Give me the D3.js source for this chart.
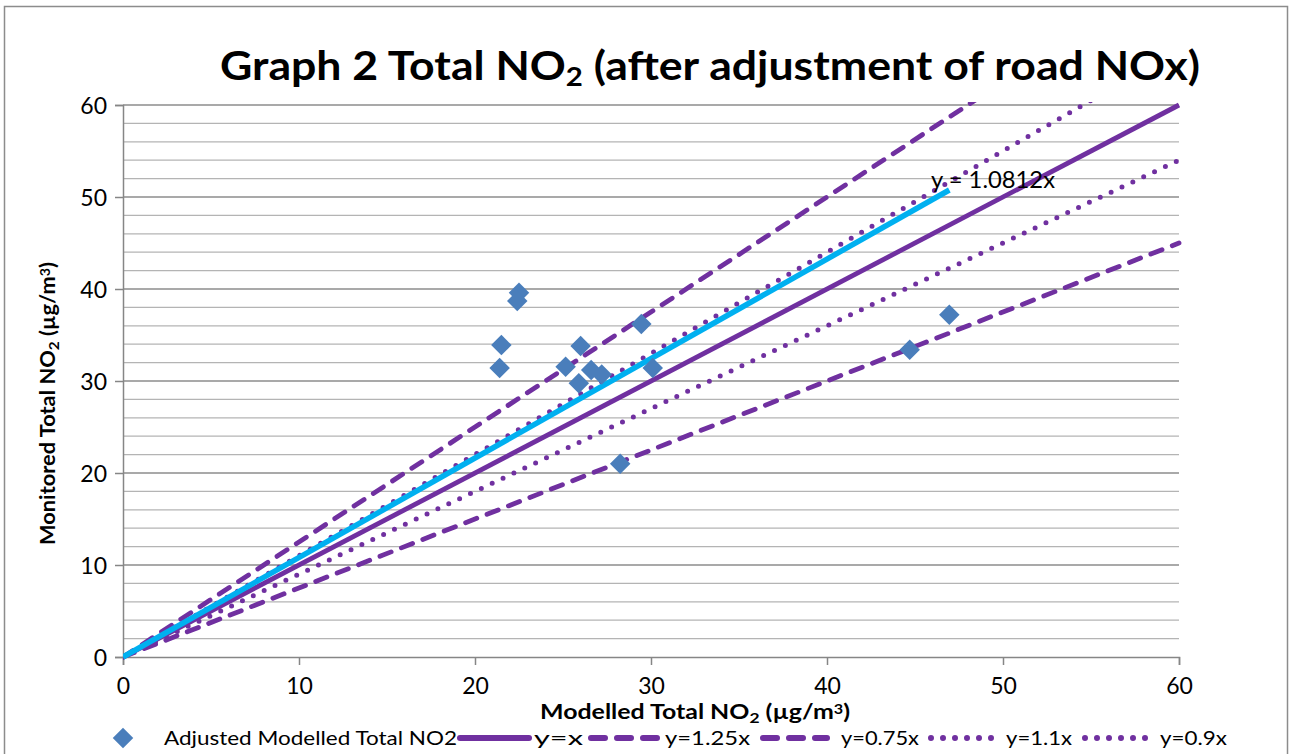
<!DOCTYPE html>
<html lang="en">
<head>
<meta charset="utf-8">
<title>Graph 2 Total NO2</title>
<script src="https://d3js.org/d3.v7.min.js"></script>
<style>
  body { margin: 0; background: #fff; }
  svg text { font-family: Lato, "Open Sans", sans-serif; fill: #000; }
</style>
</head>
<body>
<script>
// data
var modelled  = [22.5, 22.4, 21.5, 21.4, 26.0, 25.15, 26.6, 27.2, 25.9, 29.45, 30.1, 28.25, 46.95, 44.7];
var monitored = [39.6, 38.7, 33.9, 31.4, 33.8, 31.55, 31.2, 30.7, 29.75, 36.2, 31.4, 21.0, 37.2, 33.4];
var xTicks = [0, 10, 20, 30, 40, 50, 60];
var yTicks = [0, 10, 20, 30, 40, 50, 60];
var refSlopes = [1, 1.25, 0.75, 1.1, 0.9];
var refNames  = ["y=x", "y=1.25x", "y=0.75x", "y=1.1x", "y=0.9x"];
var refStyles = ["solid", "dash", "dash", "dot", "dot"];
var trendSlope = 1.0812;
var trendLabel = "y = 1.0812x";

var W = 1292, H = 754;
var purple = "#7030A0", blue = "#4A7EBB", cyan = "#00B0F0";

var svg = d3.select("body").append("svg")
    .attr("width", W).attr("height", H);

// chart border
svg.append("rect")
   .attr("x", 4.5).attr("y", 6.5)
   .attr("width", 1283).attr("height", 800)
   .attr("fill", "none").attr("stroke", "#8c8c8c").attr("stroke-width", 1.5);

var x = d3.scaleLinear().domain([0, 60]).range([123, 1179]);
var y = d3.scaleLinear().domain([0, 60]).range([657, 105]);

// gridlines (minor every 2, major every 10)
var minor = d3.range(2, 61, 2).filter(function(v){ return v % 10 != 0; });
svg.append("g").selectAll("line").data(minor).enter().append("line")
   .attr("x1", x(0)).attr("x2", x(60))
   .attr("y1", function(d){ return y(d); }).attr("y2", function(d){ return y(d); })
   .attr("stroke", "#b4b4b4").attr("stroke-width", 1.3);
svg.append("g").selectAll("line").data(yTicks.slice(1)).enter().append("line")
   .attr("x1", x(0)).attr("x2", x(60))
   .attr("y1", function(d){ return y(d); }).attr("y2", function(d){ return y(d); })
   .attr("stroke", "#8c8c8c").attr("stroke-width", 1.5);

// axes
var yAxis = svg.append("g").attr("transform", "translate(" + x(0) + ",0)")
   .call(d3.axisLeft(y).tickValues(yTicks).tickSize(8).tickPadding(8));
var xAxis = svg.append("g").attr("transform", "translate(0," + y(0) + ")")
   .call(d3.axisBottom(x).tickValues(xTicks).tickSize(8).tickPadding(13));
[yAxis, xAxis].forEach(function(a) {
  a.select(".domain").attr("stroke", "#868686").attr("stroke-width", 1.5);
  a.selectAll(".tick line").attr("stroke", "#868686").attr("stroke-width", 1.5);
  a.selectAll(".tick text").style("font-size", "23px").attr("fill", "#000");
});
yAxis.selectAll(".tick text").attr("dy", "0.35em");

// clip to plot area
svg.append("clipPath").attr("id", "plot")
   .append("rect").attr("x", x(0)).attr("y", y(60) - 3)
   .attr("width", x(60) - x(0) + 3).attr("height", y(0) - y(60) + 6);

function dashOf(s) {
  if (s == "dash") return "12,11";
  if (s == "dot") return "0,12";
  return null;
}

var line = d3.line().x(function(d){ return x(d[0]); }).y(function(d){ return y(d[1]); });

var refs = svg.append("g").attr("clip-path", "url(#plot)");
refSlopes.forEach(function(k, i) {
  refs.append("path")
      .attr("d", line([[0, 0], [60, 60 * k]]))
      .attr("fill", "none")
      .attr("stroke", purple)
      .attr("stroke-width", refStyles[i] == "dot" ? 5 : 4.8)
      .attr("stroke-linecap", refStyles[i] == "solid" ? "butt" : "round")
      .attr("stroke-dasharray", dashOf(refStyles[i]));
});

// trendline through origin up to the largest modelled value
var xMax = d3.max(modelled);
refs.append("path")
    .attr("d", line([[0, 0], [xMax, xMax * trendSlope]]))
    .attr("fill", "none").attr("stroke", cyan).attr("stroke-width", 5.5);

// points
var diamond = d3.symbol().type(d3.symbolSquare).size(210);
svg.append("g").selectAll("path").data(modelled).enter().append("path")
   .attr("d", diamond)
   .attr("transform", function(d, i){ return "translate(" + x(d) + "," + y(monitored[i]) + ") rotate(45)"; })
   .attr("fill", blue);

svg.append("text")
   .attr("x", 931).attr("y", 188)
   .attr("textLength", 124).attr("lengthAdjust", "spacingAndGlyphs")
   .style("font-size", "23px")
   .text(trendLabel);

// title
var title = svg.append("text")
   .attr("x", 220).attr("y", 80)
   .attr("textLength", 980).attr("lengthAdjust", "spacingAndGlyphs")
   .style("font-size", "41px").style("font-weight", "bold");
title.append("tspan").text("Graph 2 Total NO");
title.append("tspan").attr("baseline-shift", "-22%").style("font-size", "27px").text("2");
title.append("tspan").text(" (after adjustment of road NOx)");

// axis titles
function axisTitle(sel, lead) {
  sel.style("font-size", "20px").style("font-weight", "bold");
  sel.append("tspan").text(lead + " Total NO");
  sel.append("tspan").attr("baseline-shift", "-25%").style("font-size", "14px").text("2");
  sel.append("tspan").text(" (\u00b5g/m");
  sel.append("tspan").attr("baseline-shift", "40%").style("font-size", "13px").text("3");
  sel.append("tspan").text(")");
}
axisTitle(svg.append("text").attr("x", 540).attr("y", 719)
   .attr("textLength", 310).attr("lengthAdjust", "spacingAndGlyphs"), "Modelled");
axisTitle(svg.append("text")
   .attr("transform", "translate(55,545) rotate(-90)")
   .attr("textLength", 283).attr("lengthAdjust", "spacingAndGlyphs"), "Monitored");

// legend
var ly = 738;
var leg = svg.append("g");
leg.append("path").attr("d", diamond)
   .attr("transform", "translate(123," + ly + ") rotate(45)").attr("fill", blue);
leg.append("text").attr("x", 164).attr("y", ly).attr("dy", "0.35em")
   .attr("textLength", 293).attr("lengthAdjust", "spacingAndGlyphs")
   .style("font-size", "20px").text("Adjusted Modelled Total NO2");
var legX = [[460, 529, 534], [591, 661, 665], [763, 827, 841], [931, 995, 1006], [1085, 1152, 1160]];
var legW = [49, 85, 78, 66, 67];
refNames.forEach(function(n, i) {
  leg.append("line")
     .attr("x1", legX[i][0]).attr("x2", legX[i][1]).attr("y1", ly).attr("y2", ly)
     .attr("stroke", purple)
     .attr("stroke-width", 6)
     .attr("stroke-linecap", "round")
     .attr("stroke-dasharray", refStyles[i] == "dash" ? "14,12" : dashOf(refStyles[i]));
  leg.append("text").attr("x", legX[i][2]).attr("y", ly).attr("dy", "0.35em")
     .attr("textLength", legW[i]).attr("lengthAdjust", "spacingAndGlyphs")
     .style("font-size", "20px").text(n);
});
</script>
</body>
</html>
